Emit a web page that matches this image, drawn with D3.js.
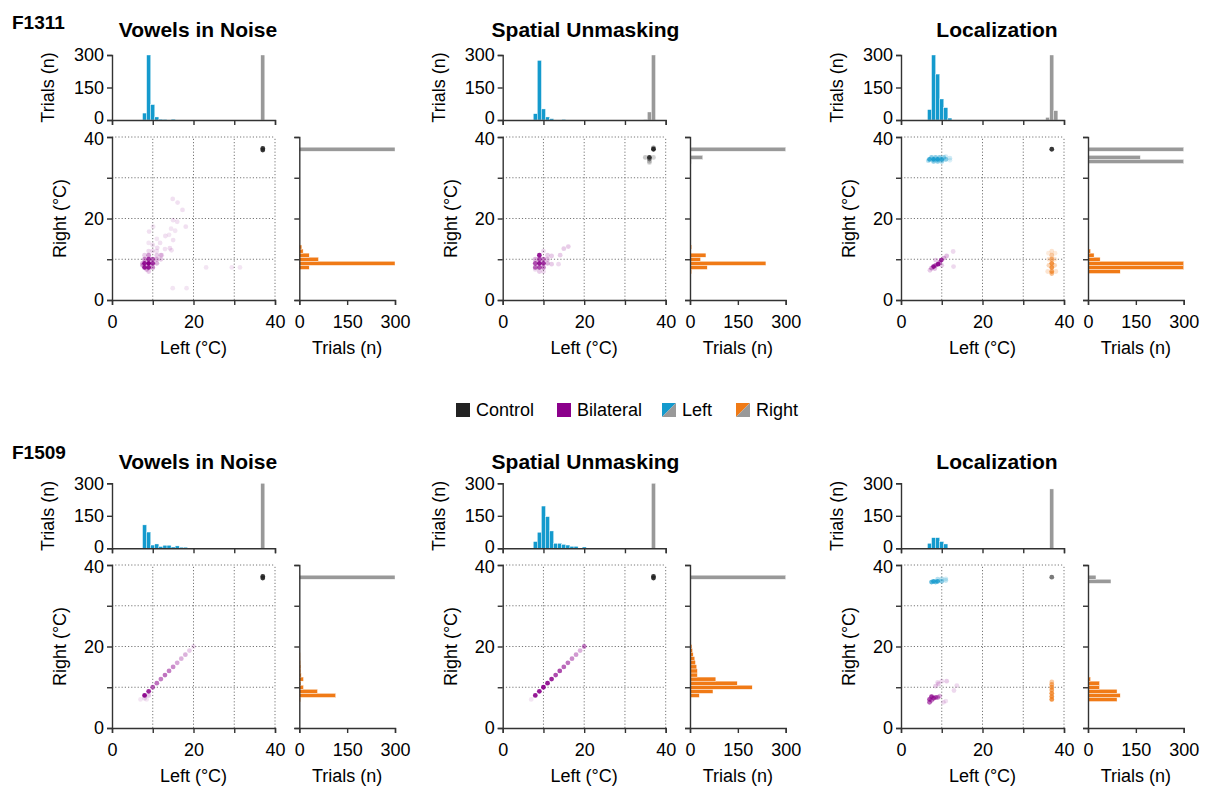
<!DOCTYPE html>
<html><head><meta charset="utf-8">
<script src="https://cdn.jsdelivr.net/npm/d3@7"></script>
<style>body{margin:0;background:#fff} text{font-family:"Liberation Sans",Arial,sans-serif;fill:#000}</style>
</head><body><svg id="c" width="1208" height="787"></svg>
<script>
// ---------- labels ----------
const subjects = ["F1311", "F1509"];
const taskTitles = ["Vowels in Noise", "Spatial Unmasking", "Localization"];
const tempTicks = [0, 10, 20, 30, 40];
const tempLabels = [0, 20, 40];
const countTicks = [0, 150, 300];
const legendItems = ["Control", "Bilateral", "Left", "Right"];

// ---------- histograms: [bin centre (°C), trials] ----------
// F1311 Vowels in Noise
const f1311vn_topBlue = [[8,32],[9,300],[10,71],[11,14],[12,4],[13,3],[15,4]];
const f1311vn_topGray = [[37,300]];
const f1311vn_sideGray = [[37,300]];
const f1311vn_sideOrange = [[8,31],[9,300],[10,60],[11,31],[12,12],[13,8]];
// F1311 Spatial Unmasking
const f1311su_topBlue = [[8,29],[9,275],[10,51],[11,14],[12,6],[15,3]];
const f1311su_topGray = [[35,2],[36,37],[37,300]];
const f1311su_sideGray = [[34,4],[35,40],[37,300]];
const f1311su_sideOrange = [[7,5],[8,54],[9,238],[10,33],[11,50],[13,5]];
// F1311 Localization
const f1311lo_topBlue = [[7,48],[8,300],[9,212],[10,97],[11,57],[12,9]];
const f1311lo_topGray = [[36,12],[37,300],[38,43]];
const f1311lo_sideGray = [[34,300],[35,164],[37,300]];
const f1311lo_sideOrange = [[7,101],[8,300],[9,300],[10,38],[11,19],[12,8]];
// F1509 Vowels in Noise
const f1509vn_topBlue = [[8,108],[9,75],[10,15],[11,20],[12,8],[13,14],[14,14],[15,6],[16,11],[17,5],[18,5]];
const f1509vn_topGray = [[37,300]];
const f1509vn_sideGray = [[37,300]];
const f1509vn_sideOrange = [[7,4],[8,114],[9,57],[10,13],[11,5],[12,13],[13,6],[14,5],[15,5],[16,4],[17,3],[18,3],[19,2],[20,2]];
// F1509 Spatial Unmasking
const f1509su_topBlue = [[8,31],[9,74],[10,195],[11,146],[12,80],[13,23],[14,23],[15,18],[16,15],[17,9],[18,9],[20,6]];
const f1509su_topGray = [[37,300]];
const f1509su_sideGray = [[37,300]];
const f1509su_sideOrange = [[8,29],[9,72],[10,195],[11,148],[12,81],[13,23],[14,23],[15,21],[16,17],[17,15],[18,10],[19,8],[20,6]];
// F1509 Localization
const f1509lo_topBlue = [[7,23],[8,49],[9,49],[10,31],[11,20]];
const f1509lo_topGray = [[37,274]];
const f1509lo_sideGray = [[36,72],[37,25]];
const f1509lo_sideOrange = [[7,91],[8,101],[9,91],[10,36],[11,36],[12,8]];

// ---------- scatter: [left °C, right °C, opacity] ----------
const f1311vn_control = [[37,36.8,0.9],[37,37.2,0.9]];
const f1311vn_bilateral = [[8,8,0.9],[8,9,0.9],[9,8,0.9],[9,9,1],[9,10,0.8],[10,9,0.8],[10,10,0.6],[8,10,0.45],[10,8,0.45],[11,9,0.3],[11,10,0.3],[9,11,0.4],[8.5,7.5,0.3],[9,7,0.2],[12,11,0.2],[12,10,0.2],[8,11,0.2],[11,11,0.2],[9,12,0.15],[10,12,0.15],[11,12,0.12],[7.5,8.5,0.35],[7.5,9,0.3],
  [14.9,24.8,0.12],[16.1,23.9,0.12],[17.3,22.1,0.12],[15,19.6,0.12],[16,19.2,0.12],[18.1,18,0.12],[9.1,16.8,0.12],[13.1,15.7,0.12],[15,14.7,0.12],[11.8,14,0.12],[14.2,12.7,0.14],[14.6,12.2,0.12],[11.1,12.8,0.14],[12.2,11,0.15],[23.1,8,0.1],[29.4,8,0.1],[31.4,8,0.1],[14.9,2.9,0.1],[18.3,2.9,0.1],[10.1,18,0.1],[10,13.5,0.12],[13,12.5,0.12],[9,14,0.1],[14.5,17.5,0.1],[15.5,17,0.1],[14,16,0.1],[11,15,0.1]];
const f1311vn_left = [];
const f1311vn_right = [];

const f1311su_control = [[37,37,0.95],[37,37.3,0.5],[36,35,0.9],[36,34.6,0.5],[35,35,0.25],[37,35,0.2],[36,34,0.25],[36,33.7,0.15]];
const f1311su_bilateral = [[9,11,0.9],[9,9,0.9],[10,9,0.8],[9,10,0.7],[8,9,0.7],[8,8,0.6],[10,8,0.5],[9,8,0.7],[10,10,0.5],[11,9,0.3],[11,10,0.25],[8,10,0.3],[9,7,0.2],[10,7,0.15],[8,7.5,0.15],[12,10.8,0.2],[14.1,11,0.2],[15,12.6,0.2],[16.1,13.1,0.2],[13.7,8.8,0.15],[12,8.8,0.2],[11,11,0.2],[10,12,0.15]];
const f1311su_left = [];
const f1311su_right = [];

const f1311lo_control = [[37,37,0.9]];
const f1311lo_bilateral = [[8,8.2,0.9],[9.1,8.8,0.9],[9.9,9.8,0.8],[8.5,8.5,0.6],[9.5,9.2,0.5],[7.5,7.8,0.4],[11.2,10.8,0.25],[12.8,11.9,0.15],[12.9,8.2,0.15],[7.1,7.3,0.2],[8.3,7.7,0.25],[10.5,10.3,0.3],[10,8.5,0.2],[8.5,9.8,0.2]];
const f1311lo_left = [[7,34.5,0.8],[8,34.5,0.9],[9,34.5,0.9],[10,34.5,0.8],[11,34.5,0.5],[12,34.8,0.2],[7.5,35,0.5],[8.5,35,0.5],[9.5,35,0.5],[10.5,35,0.4],[8,34,0.5],[9,34,0.5],[10,34,0.4],[11,35.2,0.2],[12,34.3,0.15],[6.7,34.2,0.3]];
const f1311lo_right = [[37,7,0.7],[37,8,0.8],[37,9,0.8],[37,10,0.6],[37,11,0.4],[37,12,0.2],[36.3,8.5,0.3],[37.7,8.5,0.3],[36.3,10,0.2],[37.7,10,0.2],[36,7,0.2],[38,7,0.2],[37.8,11.5,0.15],[36.2,11.5,0.15],[37,6.5,0.5]];

const f1509vn_control = [[37,36.8,0.9],[37,37.2,0.9]];
const f1509vn_bilateral = [[7,7,0.1],[8,8,0.95],[9,9,0.85],[10,10,0.6],[11,11,0.55],[12,12,0.5],[13,13,0.55],[14,14,0.5],[15,15,0.45],[16,16,0.35],[17,17,0.3],[18,18,0.3],[19,19,0.2],[20,20,0.15],[8.5,7,0.1],[8,7.3,0.15],[9,8,0.2]];
const f1509vn_left = [];
const f1509vn_right = [];

const f1509su_control = [[37,36.8,0.9],[37,37.2,0.9]];
const f1509su_bilateral = [[7,7,0.1],[8,8,0.9],[9,9,0.9],[10,10,0.95],[11,11,0.9],[12,12,0.85],[13,13,0.7],[14,14,0.7],[15,15,0.6],[16,16,0.55],[17,17,0.45],[18,18,0.4],[19,19,0.3],[20,20,0.5]];
const f1509su_left = [];
const f1509su_right = [];

const f1509lo_control = [[37,37,0.6]];
const f1509lo_bilateral = [[7,7,0.7],[7.5,7.7,0.8],[8,7.3,0.7],[8.5,7.5,0.6],[9,7.5,0.5],[7,6.3,0.6],[7.5,6.8,0.5],[9.5,7.8,0.3],[9.2,10.8,0.2],[8.5,10.3,0.2],[10,11.5,0.15],[11.2,11.5,0.2],[13.7,10.4,0.15],[13,9.2,0.15],[10.4,6.3,0.15],[11,6.6,0.12],[9,11.2,0.15]];
const f1509lo_left = [[7.5,35.8,0.7],[8,36,0.8],[9,36,0.8],[10,36,0.5],[11,36.2,0.25],[9,36.5,0.3],[10,36.6,0.3],[11,36.6,0.2],[8.5,35.8,0.6]];
const f1509lo_right = [[37,7,0.8],[37,7.7,0.8],[37,8.5,0.8],[37,9.3,0.7],[37,10,0.7],[37,10.7,0.6],[37,11.3,0.4]];

// ---------- build panel table ----------
const panelData = [
  [f1311vn_topBlue,f1311vn_topGray,f1311vn_sideGray,f1311vn_sideOrange,f1311vn_control,f1311vn_bilateral,f1311vn_left,f1311vn_right],
  [f1311su_topBlue,f1311su_topGray,f1311su_sideGray,f1311su_sideOrange,f1311su_control,f1311su_bilateral,f1311su_left,f1311su_right],
  [f1311lo_topBlue,f1311lo_topGray,f1311lo_sideGray,f1311lo_sideOrange,f1311lo_control,f1311lo_bilateral,f1311lo_left,f1311lo_right],
  [f1509vn_topBlue,f1509vn_topGray,f1509vn_sideGray,f1509vn_sideOrange,f1509vn_control,f1509vn_bilateral,f1509vn_left,f1509vn_right],
  [f1509su_topBlue,f1509su_topGray,f1509su_sideGray,f1509su_sideOrange,f1509su_control,f1509su_bilateral,f1509su_left,f1509su_right],
  [f1509lo_topBlue,f1509lo_topGray,f1509lo_sideGray,f1509lo_sideOrange,f1509lo_control,f1509lo_bilateral,f1509lo_left,f1509lo_right]
];

const C = {blue:"#149acd", gray:"#999999", orange:"#f07a16", purple:"#8b008b", black:"#222222", axis:"#333333"};
const colX = [112, 502.7, 901];
const sideX = [299.3, 690, 1088];
const titleX = [198, 585.5, 997];
const rowTopHist = [55, 483.3];
const rowScatter = [137, 565];
const S = 163, TH = 65, SW = 95.7;
const FS = 18;

const svg = d3.select("#c");

function styleAxis(g){
  g.selectAll("path.domain").attr("stroke", C.axis).attr("stroke-width", 1.4);
  g.selectAll(".tick line").attr("stroke", C.axis).attr("stroke-width", 1.4);
  g.selectAll(".tick text").attr("font-size", FS).attr("fill", "#000")
    .attr("font-family", '"Liberation Sans", Arial, sans-serif');
}
const fmtTemp = d => tempLabels.includes(d) ? d : "";

panelData.forEach((pd, i) => {
  const row = Math.floor(i / 3), col = i % 3;
  const [topBlue, topGray, sideGray, sideOrange, control, bilateral, left, right] = pd;
  const x0 = colX[col], sx0 = sideX[col];
  const th0 = rowTopHist[row], sc0 = rowScatter[row];

  const x = d3.scaleLinear().domain([0, 40]).range([x0, x0 + S]);
  const y = d3.scaleLinear().domain([0, 40]).range([sc0 + S, sc0]);
  const hy = d3.scaleLinear().domain([0, 300]).range([th0 + TH, th0]);
  const hx = d3.scaleLinear().domain([0, 300]).range([sx0, sx0 + SW]);
  const cl = v => Math.min(v, 300);

  // title
  svg.append("text").attr("x", titleX[col]).attr("y", row === 0 ? 37 : 469)
    .attr("text-anchor", "middle").attr("font-size", 21).attr("font-weight", "bold")
    .text(taskTitles[col]);

  // --- top histogram ---
  const gTop = svg.append("g");
  [[topBlue, C.blue], [topGray, C.gray]].forEach(([arr, c]) => {
    gTop.selectAll(null).data(arr).enter().append("rect")
      .attr("x", d => x(d[0] - 0.5)).attr("width", d => x(d[0] + 0.5) - x(d[0] - 0.5))
      .attr("y", d => hy(cl(d[1]))).attr("height", d => hy(0) - hy(cl(d[1])))
      .attr("fill", c).attr("stroke", "#fff").attr("stroke-width", 0.4);
  });
  svg.append("g").attr("transform", `translate(0,${hy(0)})`)
    .call(d3.axisBottom(x).tickValues(tempTicks).tickFormat("").tickSizeOuter(0).tickSize(5)).call(styleAxis);
  svg.append("g").attr("transform", `translate(${x0},0)`)
    .call(d3.axisLeft(hy).tickValues(countTicks).tickSizeOuter(0).tickSize(5).tickPadding(3)).call(styleAxis)
    .selectAll(".tick text").filter(d => d === 0).attr("y", -2);
  svg.append("text").attr("transform", `translate(${x0 - 58},${hy(150)}) rotate(-90)`)
    .attr("text-anchor", "middle").attr("font-size", FS).text("Trials (n)");

  // --- scatter ---
  const gGrid = svg.append("g");
  [10, 20, 30, 40].forEach(v => {
    gGrid.append("line").attr("x1", x(v)).attr("x2", x(v)).attr("y1", y(0)).attr("y2", y(40))
      .attr("stroke", "#777").attr("stroke-width", 1).attr("stroke-dasharray", "1.2,2");
    gGrid.append("line").attr("x1", x(0)).attr("x2", x(40)).attr("y1", y(v)).attr("y2", y(v))
      .attr("stroke", "#777").attr("stroke-width", 1).attr("stroke-dasharray", "1.2,2");
  });
  const gPts = svg.append("g");
  [[bilateral, C.purple], [left, C.blue], [right, C.orange], [control, C.black]].forEach(([arr, c]) => {
    gPts.selectAll(null).data(arr).enter().append("circle")
      .attr("cx", d => x(d[0])).attr("cy", d => y(d[1])).attr("r", 2.4)
      .attr("fill", c).attr("fill-opacity", d => d[2]);
  });
  svg.append("g").attr("transform", `translate(0,${y(0)})`)
    .call(d3.axisBottom(x).tickValues(tempTicks).tickFormat(fmtTemp).tickSizeOuter(0).tickSize(5).tickPadding(10)).call(styleAxis);
  svg.append("g").attr("transform", `translate(${x0},0)`)
    .call(d3.axisLeft(y).tickValues(tempTicks).tickFormat(fmtTemp).tickSizeOuter(0).tickSize(5).tickPadding(3)).call(styleAxis)
    .selectAll(".tick text").filter(d => d === 40).attr("y", 2);
  svg.append("text").attr("transform", `translate(${x0 - 46},${y(20)}) rotate(-90)`)
    .attr("text-anchor", "middle").attr("font-size", FS).text("Right (°C)");
  svg.append("text").attr("x", x(20)).attr("y", y(0) + 54)
    .attr("text-anchor", "middle").attr("font-size", FS).text("Left (°C)");

  // --- side histogram ---
  const gSide = svg.append("g");
  [[sideGray, C.gray], [sideOrange, C.orange]].forEach(([arr, c]) => {
    gSide.selectAll(null).data(arr).enter().append("rect")
      .attr("y", d => y(d[0] + 0.5)).attr("height", d => y(d[0] - 0.5) - y(d[0] + 0.5))
      .attr("x", hx(0)).attr("width", d => hx(cl(d[1])) - hx(0))
      .attr("fill", c).attr("stroke", "#fff").attr("stroke-width", 0.4);
  });
  svg.append("g").attr("transform", `translate(${sx0},0)`)
    .call(d3.axisLeft(y).tickValues(tempTicks).tickFormat("").tickSizeOuter(0).tickSize(5)).call(styleAxis);
  svg.append("g").attr("transform", `translate(0,${y(0)})`)
    .call(d3.axisBottom(hx).tickValues(countTicks).tickSizeOuter(0).tickSize(5).tickPadding(10)).call(styleAxis);
  svg.append("text").attr("x", hx(150)).attr("y", y(0) + 54)
    .attr("text-anchor", "middle").attr("font-size", FS).text("Trials (n)");
});

// subject labels
subjects.forEach((s, r) => {
  svg.append("text").attr("x", 12).attr("y", r === 0 ? 29 : 459)
    .attr("font-size", 19).attr("font-weight", "bold").text(s);
});

// legend
const legX = [456, 557, 662, 736];
const legG = svg.append("g");
legendItems.forEach((name, i) => {
  const lx = legX[i], ly = 403, sz = 14;
  if (i < 2) {
    legG.append("rect").attr("x", lx).attr("y", ly).attr("width", sz).attr("height", sz)
      .attr("fill", i === 0 ? C.black : C.purple);
  } else {
    const c1 = i === 2 ? C.blue : C.orange;
    legG.append("path").attr("d", `M${lx},${ly}L${lx+sz},${ly}L${lx},${ly+sz}Z`).attr("fill", c1);
    legG.append("path").attr("d", `M${lx+sz},${ly}L${lx+sz},${ly+sz}L${lx},${ly+sz}Z`).attr("fill", C.gray);
  }
  legG.append("text").attr("x", lx + sz + 6).attr("y", ly + 13).attr("font-size", FS).text(name);
});
</script></body></html>
